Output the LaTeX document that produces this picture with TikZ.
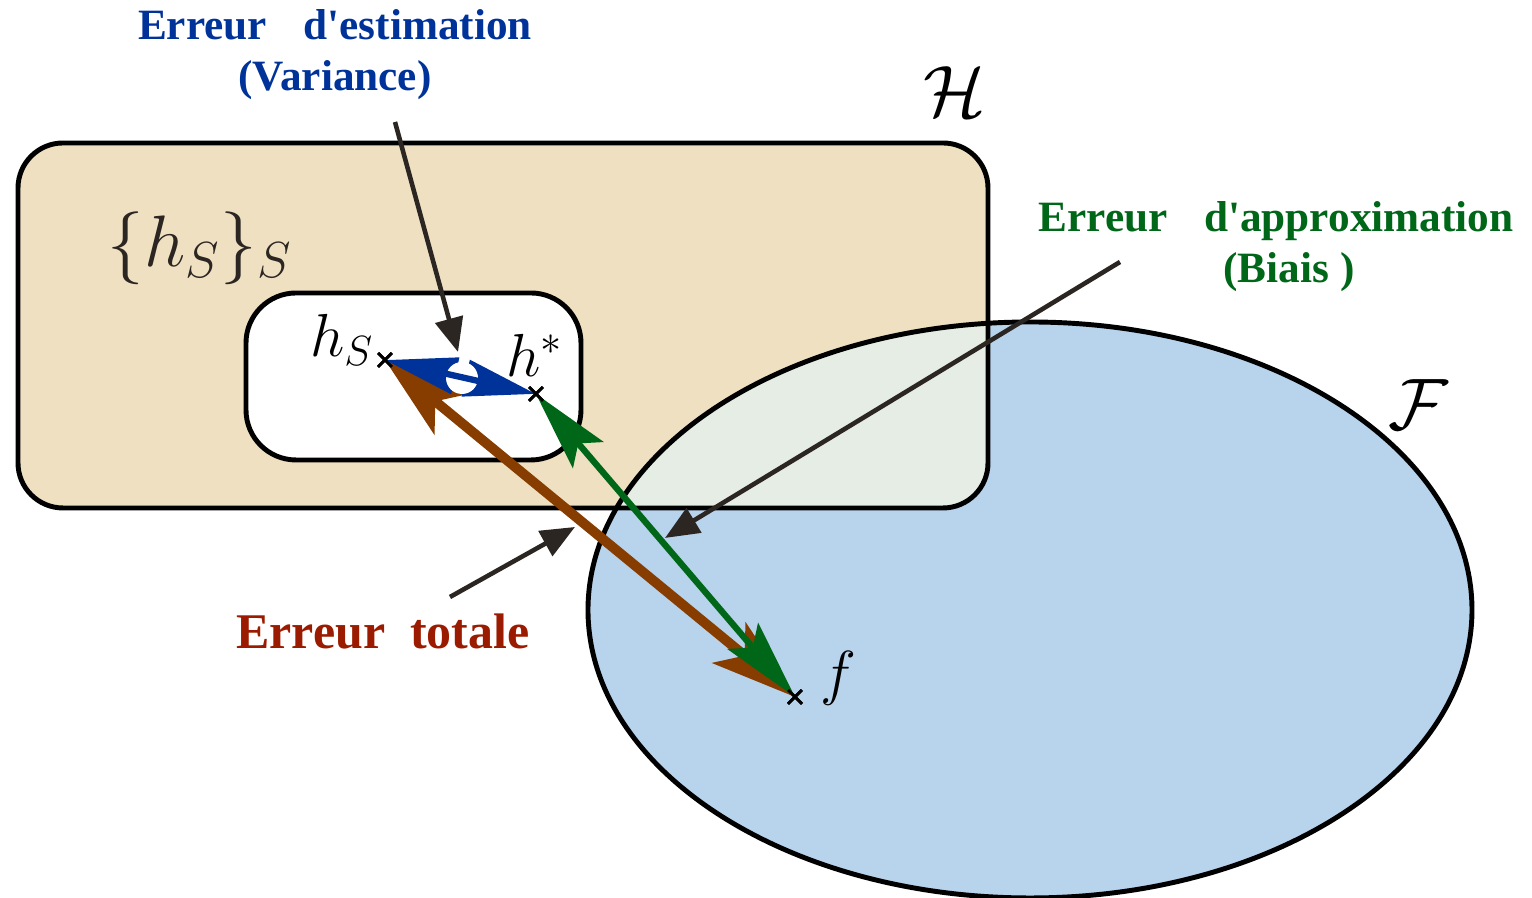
\documentclass[tikz,border=0pt]{standalone}
\usepackage{fontspec}
\setmainfont{Liberation Serif}
\usetikzlibrary{arrows.meta, shapes.misc, calc}
\definecolor{hfill}{HTML}{EFE0C2}
\definecolor{ffill}{HTML}{B8D3EC}
\definecolor{hffill}{HTML}{E6EDE5}
\definecolor{estblue}{HTML}{003399}
\definecolor{approxgreen}{HTML}{006618}
\definecolor{totalred}{HTML}{9B1B00}
\definecolor{totalbrown}{HTML}{873C00}
\definecolor{pointerdark}{HTML}{2B2622}

\begin{document}
\begin{tikzpicture}[x=0.01cm, y=0.01cm,
    setline/.style={line width=1.4pt},
    pt/.style={cross out, draw, minimum size=0.11cm, inner sep=0pt, line width=0.8pt},
    pointer/.style={pointerdark, line width=1.3pt,
      -{Triangle[length=0.34cm, width=0.28cm]}},
    lbl/.style={font=\bfseries\fontsize{12.3}{14.5}\selectfont, align=center}]
  \useasboundingbox (0,0) rectangle (1532,898);

  % the two sets and their overlap
  \fill[hfill, rounded corners=0.45cm] (18,390) rectangle (988,755);
  \fill[ffill] (1030,288) ellipse [x radius=442, y radius=288];
  \begin{scope}
    \clip (1030,288) ellipse [x radius=442, y radius=288];
    \fill[hffill, rounded corners=0.45cm] (18,390) rectangle (988,755);
  \end{scope}
  \draw[setline, rounded corners=0.45cm] (18,390) rectangle (988,755);
  \draw[setline] (1030,288) ellipse [x radius=442, y radius=288];
  \draw[setline, fill=white, rounded corners=0.5cm] (246,438) rectangle (581,605);

  \node (hlbl) at (955,806) {\fontsize{22}{26}\selectfont$\mathcal{H}$};
  \node (flbl) at (1418,493) {\fontsize{22}{26}\selectfont$\mathcal{F}$};
  \node[pointerdark] (famlbl) at (200,650)
    {\fontsize{22}{26}\selectfont$\{h_S\}_S$};

  % the three points
  \node[pt] (hs) at (385,538) {};
  \node[pt] (hst) at (536,504) {};
  \node[pt] (f) at (795,201) {};
  \node (hslbl) at (342,558) {\fontsize{17}{20}\selectfont$h_S$};
  \node (hstlbl) at (535,543) {\fontsize{17}{20}\selectfont$h^{*}$};
  \node (flbl2) at (838,220) {\fontsize{17}{20}\selectfont$f$};

  % errors
  \draw[totalbrown, line width=2.8pt,
    {Stealth[length=0.85cm, width=0.52cm, inset=0.2cm]}-{Stealth[length=0.85cm, width=0.52cm, inset=0.2cm]}]
    (hs.center) -- (f.center);
  \draw[approxgreen, line width=1.8pt,
    {Stealth[length=0.8cm, width=0.4cm, inset=0.15cm]}-{Stealth[length=0.8cm, width=0.4cm, inset=0.15cm]}]
    (hst.center) -- (f.center);
  \draw[estblue, line width=1.8pt,
    {Triangle[length=0.72cm, width=0.36cm]}-{Triangle[length=0.72cm, width=0.36cm]}]
    (hs.center) -- (hst.center);
  \fill[white] (462,520) circle (16);
  \draw[estblue, line width=1.8pt] ($(hs.center)!0.38!(hst.center)$) -- ($(hs.center)!0.62!(hst.center)$);

  \node[pt] at (hs) {};
  \node[pt] at (hst) {};
  \node[pt] at (f) {};

  % labels and pointers
  \node[lbl, estblue] (estlbl) at (335,843)
    {Erreur\hspace{0.85em}d\textquotesingle estimation\\(Variance)};
  \node[lbl, approxgreen] (approxlbl) at (1276,651)
    {Erreur\hspace{0.85em}d\textquotesingle approximation\\\hspace{0.6em}(Biais\ )};
  \node[lbl, totalred, font=\bfseries\fontsize{14.2}{17}\selectfont] (totallbl) at (383,266)
    {Erreur\ \ totale};

  \coordinate (estfrom) at (395,776);
  \coordinate (estto) at (458,546);
  \coordinate (approxfrom) at (1120,636);
  \coordinate (approxto) at (665,360);
  \coordinate (totalfrom) at (450,301);
  \coordinate (totalto) at (575,371);
  \draw[pointer] (estfrom) -- (estto);
  \draw[pointer] (approxfrom) -- (approxto);
  \draw[pointer] (totalfrom) -- (totalto);
\end{tikzpicture}
\end{document}
